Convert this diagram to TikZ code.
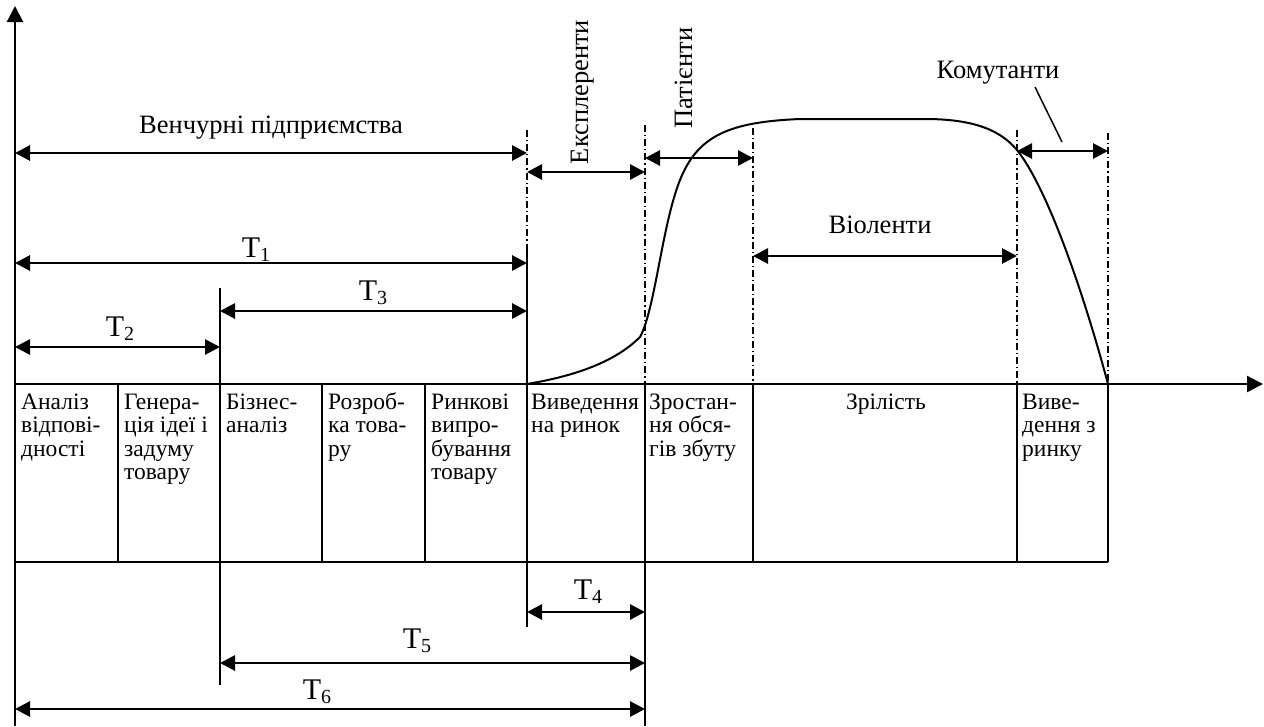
\documentclass[tikz,border=0pt]{standalone}
\usepackage{fontspec}
\setmainfont{Liberation Serif}
\usetikzlibrary{arrows.meta}
\tikzset{
  axisline/.style={line width=2.3pt},
  boxline/.style={line width=2pt},
  dashdot/.style={line width=1.6pt, dash pattern=on 7pt off 3pt on 1.2pt off 3pt},
  span/.style={line width=2.8pt, {Triangle[length=15pt,width=15pt]}-{Triangle[length=15pt,width=15pt]}},
  boxtext/.style={anchor=north west, inner sep=0pt, align=left, font=\fontsize{23.5}{23.5}\selectfont},
  lbl/.style={inner sep=0pt, anchor=base, font=\fontsize{26.5}{28}\selectfont},
  tlbl/.style={inner sep=0pt, anchor=base, font=\fontsize{30}{32}\selectfont},
  curve/.style={line width=2pt}
}
\newcommand{\Tsub}[1]{T\raisebox{-4pt}{\fontsize{20}{20}\selectfont #1}}
\newcommand{\fst}{\rule{0pt}{18pt}}
\begin{document}
\begin{tikzpicture}[x=1pt,y=-1pt]
\useasboundingbox (0,0) rectangle (1264,726);
% axes
\coordinate (o) at (15,384);
\coordinate (ybot) at (15,726);
\coordinate (ytop) at (15,6);
\coordinate (xend) at (1263,384);
\draw[axisline,-{Triangle[length=16pt,width=16pt]}] (ybot) -- (ytop);
\draw[axisline,-{Triangle[length=16pt,width=16pt]}] (o) -- (xend);
% box frame
\coordinate (bl) at (15,562);
\coordinate (br) at (1108,562);
\draw[boxline] (bl) -- (br);
\foreach \x/\n in {118/a,220/b,322/c,425/d,527/e,645/f,753/g,1017/h,1108/i}{
  \coordinate (t\n) at (\x,384);
  \coordinate (d\n) at (\x,562);
  \draw[boxline] (t\n) -- (d\n);
}
% vertical guide lines above
\coordinate (e1) at (527,130);
\coordinate (e2) at (527,247);
\draw[dashdot] (e1) -- (e2);
\draw[boxline] (e2) -- (te);
\coordinate (b1) at (220,288);
\draw[boxline] (b1) -- (tb);
\coordinate (f1) at (645,125);
\draw[dashdot] (f1) -- (tf);
\coordinate (g1) at (753,128);
\draw[dashdot] (g1) -- (tg);
\coordinate (h1) at (1017,130);
\draw[dashdot] (h1) -- (th);
\coordinate (i1) at (1108,133);
\draw[dashdot] (i1) -- (ti);
% vertical guide lines below
\coordinate (b2) at (220,685);
\draw[boxline] (db) -- (b2);
\coordinate (e3) at (527,627);
\draw[boxline] (de) -- (e3);
\coordinate (f2) at (645,726);
\draw[boxline] (df) -- (f2);
% spans
\coordinate (v1) at (15,153);  \coordinate (v2) at (527,153);
\draw[span] (v1) -- (v2);
\coordinate (ex1) at (527,172); \coordinate (ex2) at (645,172);
\draw[span] (ex1) -- (ex2);
\coordinate (p1) at (645,158); \coordinate (p2) at (753,158);
\draw[span] (p1) -- (p2);
\coordinate (k1) at (1017,151); \coordinate (k2) at (1108,151);
\draw[span] (k1) -- (k2);
\coordinate (vi1) at (753,256); \coordinate (vi2) at (1017,256);
\draw[span] (vi1) -- (vi2);
\coordinate (T1a) at (15,263); \coordinate (T1b) at (527,263);
\draw[span] (T1a) -- (T1b);
\coordinate (T3a) at (220,311); \coordinate (T3b) at (527,311);
\draw[span] (T3a) -- (T3b);
\coordinate (T2a) at (15,347); \coordinate (T2b) at (220,347);
\draw[span] (T2a) -- (T2b);
\coordinate (T4a) at (527,612); \coordinate (T4b) at (645,612);
\draw[span] (T4a) -- (T4b);
\coordinate (T5a) at (220,663); \coordinate (T5b) at (645,663);
\draw[span] (T5a) -- (T5b);
\coordinate (T6a) at (15,709); \coordinate (T6b) at (645,709);
\draw[span] (T6a) -- (T6b);
% labels
\node[lbl] (lv) at (271,133) {Венчурні підприємства};
\node[lbl, rotate=90] (lex) at (588,92) {Експлеренти};
\node[lbl, rotate=90] (lp) at (692,78) {Патієнти};
\node[lbl] (lk) at (998,78) {Комутанти};
\node[lbl] (lvi) at (880,233) {Віоленти};
\coordinate (kl1) at (1035,87);
\coordinate (kl2) at (1062,142);
\draw[line width=1.5pt] (kl1) -- (kl2);
\node[tlbl] (lt1) at (256,257) {\Tsub{1}};
\node[tlbl] (lt2) at (120,336) {\Tsub{2}};
\node[tlbl] (lt3) at (373,300) {\Tsub{3}};
\node[tlbl] (lt4) at (588,599) {\Tsub{4}};
\node[tlbl] (lt5) at (417,648) {\Tsub{5}};
\node[tlbl] (lt6) at (317,699) {\Tsub{6}};
% box texts
\node[boxtext] (s1) at (21,391) {\fst Аналіз\\відпові-\\дності};
\node[boxtext] (s2) at (124,391) {\fst Генера-\\ція ідеї і\\задуму\\товару};
\node[boxtext] (s3) at (226,391) {\fst Бізнес-\\аналіз};
\node[boxtext] (s4) at (328,391) {\fst Розроб-\\ка това-\\ру};
\node[boxtext] (s5) at (431,391) {\fst Ринкові\\випро-\\бування\\товару};
\node[boxtext] (s6) at (531,391) {\fst Виведення\\на ринок};
\node[boxtext] (s7) at (649,391) {\fst Зростан-\\ня обся-\\гів збуту};
\node[boxtext, anchor=north] (s8) at (886,391) {\fst Зрілість};
\node[boxtext] (s9) at (1022,391) {\fst Виве-\\дення з\\ринку};
% life cycle curve
\coordinate (c0) at (527,384);
\coordinate (c1) at (640,337);
\coordinate (c2) at (680,180);
\coordinate (c3) at (800,119);
\coordinate (c4) at (930,119);
\coordinate (c5) at (1017,150);
\coordinate (c6) at (1108,384);
\draw[curve] (c0) .. controls (575,376) and (615,362) .. (c1)
  .. controls (655,310) and (662,225) .. (c2)
  .. controls (698,135) and (730,122) .. (c3)
  -- (c4)
  .. controls (975,120) and (1000,130) .. (c5)
  .. controls (1045,185) and (1080,280) .. (c6);
\end{tikzpicture}
\end{document}
